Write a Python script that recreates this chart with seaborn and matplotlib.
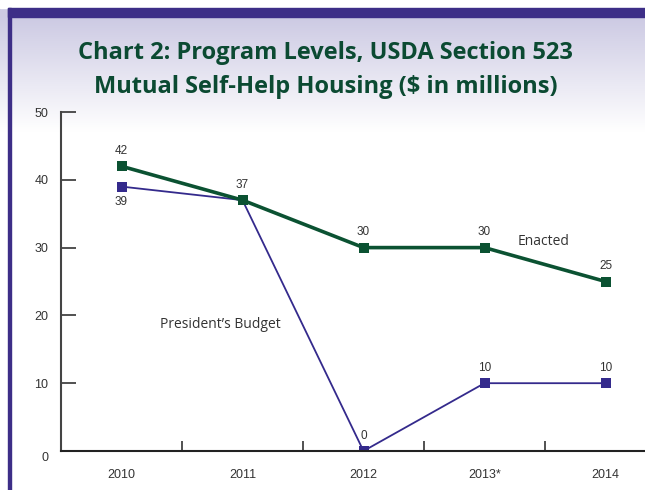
import numpy as np
import pandas as pd
import matplotlib
matplotlib.use("Agg")
import matplotlib.pyplot as plt
import matplotlib.transforms as mtrans
import seaborn as sns

# dati del grafico
anni = ["2010", "2011", "2012", "2013*", "2014"]
enacted = [42, 37, 30, 30, 25]
budget = [39, 37, 0, 10, 10]
y_ticks = [0, 10, 20, 30, 40, 50]

verde = "#0b5232"
blu = "#342a8c"

sns.set_style("white")
plt.rcParams["font.family"] = ["Liberation Sans", "DejaVu Sans"]

df = pd.DataFrame({"anno": anni * 2,
                   "valore": enacted + budget,
                   "serie": ["Enacted"] * 5 + ["President's Budget"] * 5})
df["pos"] = list(range(5)) * 2

fig = plt.figure(figsize=(6.45, 4.9), dpi=100)

# sfondo sfumato
bg = fig.add_axes([0, 0, 1, 1], zorder=-10)
grad = np.ones((490, 1, 3))
top = np.array([0.80, 0.79, 0.89])
for i in range(490):
    t = min(max((i - 17) / 115, 0), 1)
    grad[i, 0] = top * (1 - t) + np.array([1, 1, 1]) * t
bg.imshow(grad, aspect="auto", extent=[0, 645, 490, 0])
bg.add_patch(plt.Rectangle((0, 0), 645, 8, color="white"))
bg.add_patch(plt.Rectangle((8, 8), 640, 9, color="#3d2e87"))
bg.add_patch(plt.Rectangle((8, 8), 2.5, 490, color="#3d2e87"))
bg.set_xlim(0, 645)
bg.set_ylim(490, 0)
bg.axis("off")

ax = fig.add_axes([61 / 645, 39 / 490, 605 / 645, 339 / 490])
ax.patch.set_alpha(0)

sns.lineplot(data=df[df.serie == "Enacted"], x="pos", y="valore", ax=ax,
             color=verde, lw=2.6, marker="s", markersize=7, markeredgewidth=0, zorder=3)
sns.lineplot(data=df[df.serie != "Enacted"], x="pos", y="valore", ax=ax,
             color=blu, lw=1.3, marker="s", markersize=7, markeredgewidth=0, zorder=2)

# etichette dei valori
for i, v in enumerate(enacted):
    ax.text(i, v + 1.4, str(v), ha="center", va="bottom", fontsize=8.5, color="#333333")
for i, v in enumerate(budget):
    if i == 1:
        continue
    if i == 0:
        ax.text(i, v - 1.4, str(v), ha="center", va="top", fontsize=8.5, color="#333333")
    else:
        ax.text(i, v + 1.4, str(v), ha="center", va="bottom", fontsize=8.5, color="#333333")

ax.text(3.27, 30.9, "Enacted", fontsize=10, color="#333333", family="Open Sans", va="center")
ax.text(0.32, 18.6, "President\u2019s Budget", fontsize=10, color="#333333",
        family="Open Sans", va="center")

ax.set_xlim(-0.5, 4.5)
ax.set_ylim(0, 50)
ax.set_yticks(y_ticks)
ax.set_xticks(range(5))
ax.set_xticklabels(anni, fontsize=9, color="#333333")
ax.set_yticklabels([str(t) for t in y_ticks], fontsize=9, color="#333333")
ax.set_xticks([0.5, 1.5, 2.5, 3.5], minor=True)
ax.tick_params(axis="x", which="major", length=0, pad=13)
ax.tick_params(axis="x", which="minor", bottom=True, direction="in", length=7, width=1.2, color="#333333")
ax.tick_params(axis="y", left=True, direction="in", length=11, width=1.2, color="#333333", pad=9)
# lo "0" sta un po' piu' in basso
lab0 = ax.get_yticklabels()[0]
lab0.set_transform(lab0.get_transform() + mtrans.ScaledTranslation(0, -5 / 100, fig.dpi_scale_trans))
ax.set_xlabel("")
ax.set_ylabel("")
sns.despine(ax=ax)
ax.spines["left"].set_color("#444444")
ax.spines["bottom"].set_color("#222222")
ax.spines["left"].set_linewidth(1.5)
ax.spines["bottom"].set_linewidth(1.5)

fig.text(0.505, 0.857, "Chart 2: Program Levels, USDA Section 523\nMutual Self-Help Housing ($ in millions)",
         ha="center", va="center", fontsize=17, fontweight="bold", color="#0b4a32",
         family="Open Sans", linespacing=1.55)

plt.savefig("out.png", dpi=100)
